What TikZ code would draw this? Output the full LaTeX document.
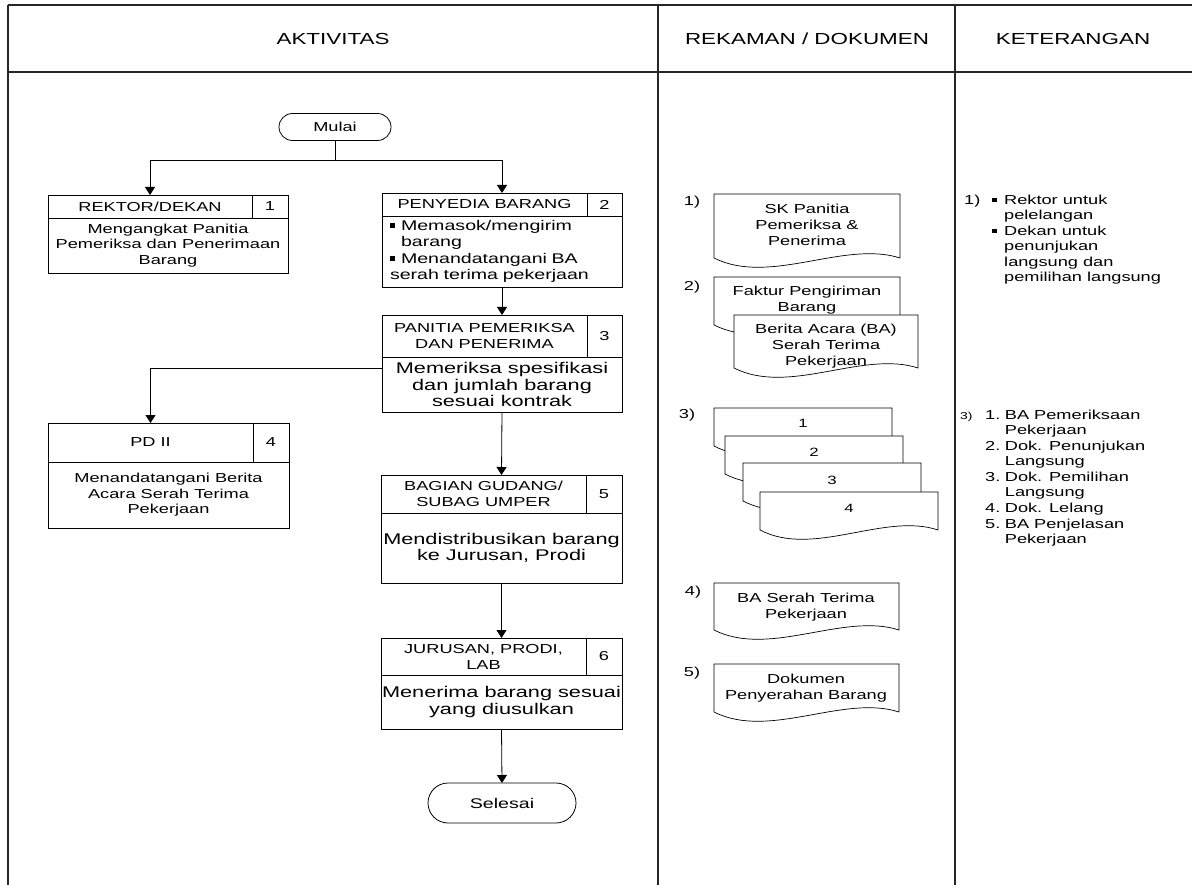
\documentclass[tikz,border=0pt]{standalone}
\usepackage{fontspec}
\setmainfont{Liberation Sans}[FakeStretch=1.4]
\usetikzlibrary{arrows.meta,positioning}

\newcommand{\sqb}{\rule[0.18em]{4.5pt}{4.5pt}}
\newcommand{\docshape}[4]{%
  \draw[docline] (#1,#2) -- (#3,#2) -- (#3,#4)
    .. controls ({#3-0.3*(#3-#1)},{#4-18}) and ({#1+0.3*(#3-#1)},{#4+28}) .. (#1,#4) -- cycle;}

\tikzset{
  frame/.style={line width=1.4pt, draw=black!85},
  divider/.style={line width=2.2pt, draw=black!85},
  colhead/.style={font=\fontsize{16}{19}\selectfont},
  head/.style={rectangle, draw, line width=0.8pt, outer sep=0pt, inner sep=1pt, align=center, anchor=north west, font=\fontsize{13}{16}\selectfont},
  num/.style={head, minimum width=36pt},
  body/.style={rectangle, draw, line width=0.8pt, outer sep=0pt, inner sep=1pt, align=center, anchor=north west, font=\fontsize{13}{15.5}\selectfont},
  bigbody/.style={body, font=\fontsize{15.5}{16.7}\selectfont},
  term/.style={rectangle, draw, line width=0.8pt, outer sep=0pt, font=\fontsize{13}{15}\selectfont},
  arr/.style={-{Triangle[width=10pt,length=8pt]}, line width=0.8pt},
  link/.style={line width=0.8pt},
  docline/.style={line width=0.7pt, fill=white},
  doctext/.style={align=center, font=\fontsize{13}{16}\selectfont},
  tag/.style={font=\fontsize{13}{15}\selectfont},
  note/.style={anchor=base west, inner sep=0pt, font=\fontsize{13}{15.5}\selectfont},
}

\begin{document}
\begin{tikzpicture}[x=1pt,y=-1pt]
\useasboundingbox (0,0) rectangle (1192,885);

% table frame
\draw[frame] (8,5) -- (1192,5);
\draw[frame] (8,72) -- (1192,72);
\draw[frame] (8,5) -- (8,885);
\draw[divider] (658,5) -- (658,885);
\draw[divider] (955,5) -- (955,885);
\node[colhead] (hAkt) at (333,39) {AKTIVITAS};
\node[colhead] (hRek) at (807,39) {REKAMAN / DOKUMEN};
\node[colhead] (hKet) at (1073,39) {KETERANGAN};

% activities
\node[term, minimum width=112pt, minimum height=27pt, rounded corners=13.5pt] (mulai) at (335,127) {Mulai};

\node[head, minimum width=204pt, minimum height=23pt] (h1) at (48,195) {REKTOR/DEKAN};
\node[num, minimum height=23pt] (n1) at (h1.north east) {1};
\node[body, minimum width=240pt, minimum height=55pt] (b1) at (h1.south west) {Mengangkat Panitia\\Pemeriksa dan Penerimaan\\Barang};

\node[head, minimum width=205pt, minimum height=23pt] (h2) at (382,193) {PENYEDIA BARANG};
\node[num, minimum width=35pt, minimum height=23pt] (n2) at (h2.north east) {2};
\node[body, minimum width=240pt, minimum height=71pt, text width=224pt, inner xsep=8pt, align=left, font=\fontsize{14}{16.5}\selectfont] (b2) at (h2.south west)
  {\noindent\begin{tabular}{@{}l@{}}
    \makebox[11pt][l]{\sqb}Memasok/mengirim\\
    \hspace*{11pt}barang\\
    \makebox[11pt][l]{\sqb}Menandatangani BA\\
    serah terima pekerjaan
  \end{tabular}};

\node[head, minimum width=205pt, minimum height=42pt] (h3) at (382,315) {PANITIA PEMERIKSA\\DAN PENERIMA};
\node[num, minimum width=35pt, minimum height=42pt] (n3) at (h3.north east) {3};
\node[bigbody, minimum width=240pt, minimum height=55pt] (b3) at (h3.south west) {Memeriksa spesifikasi\\dan jumlah barang\\sesuai kontrak};

\node[head, minimum width=205pt, minimum height=39pt] (h4) at (48,423) {PD II};
\node[num, minimum height=39pt] (n4) at (h4.north east) {4};
\node[body, minimum width=241pt, minimum height=66pt] (b4) at (h4.south west) {Menandatangani Berita\\Acara Serah Terima\\Pekerjaan};

\node[head, minimum width=205pt, minimum height=38pt] (h5) at (381,475) {BAGIAN GUDANG/\\SUBAG UMPER};
\node[num, minimum height=38pt] (n5) at (h5.north east) {5};
\node[bigbody, minimum width=241pt, minimum height=70pt] (b5) at (h5.south west) {Mendistribusikan barang\\ke Jurusan, Prodi};

\node[head, minimum width=205pt, minimum height=37pt] (h6) at (381,638) {JURUSAN, PRODI,\\LAB};
\node[num, minimum height=37pt] (n6) at (h6.north east) {6};
\node[bigbody, minimum width=241pt, minimum height=54pt] (b6) at (h6.south west) {Menerima barang sesuai\\yang diusulkan};

\node[term, minimum width=148pt, minimum height=40pt, rounded corners=20pt, font=\fontsize{14}{16}\selectfont] (selesai) at (502,803) {Selesai};

% flow
\coordinate (fork) at (335,160);
\draw[link] (mulai.south) -- (fork);
\draw[arr] (fork) -| (h1.north);
\draw[arr] (fork) -| (b2.north |- h2.north);
\draw[arr] (b2.south) -- (b3.north |- h3.north);
\draw[arr] ([yshift=16.5pt]b3.west) -| (h4.north);
\draw[arr] (b3.south) -- (b5.north |- h5.north);
\draw[arr] (b5.south) -- (b6.north |- h6.north);
\draw[arr] (b6.south) -- (selesai.north);

% records
\node[tag] (t1) at (692,202) {1)};
\docshape{714}{194}{900}{258}
\node[doctext] (dSK) at (807,225) {SK Panitia\\Pemeriksa \&\\Penerima};

\node[tag] (t2) at (692,287) {2)};
\docshape{714}{277}{900}{325}
\node[doctext] (dFaktur) at (807,300) {Faktur Pengiriman\\Barang};
\docshape{734}{315}{918}{368}
\node[doctext] (dBA) at (826,346) {Berita Acara (BA)\\Serah Terima\\Pekerjaan};

\node[tag] (t3) at (687,415) {3)};
\docshape{714}{408}{892}{446}
\node[doctext, font=\fontsize{12}{14}\selectfont] (s1) at (803,423) {1};
\docshape{725}{436}{903}{474}
\node[doctext, font=\fontsize{12}{14}\selectfont] (s2) at (814,452) {2};
\docshape{743}{463}{921}{501}
\node[doctext, font=\fontsize{12}{14}\selectfont] (s3) at (832,480) {3};
\docshape{760}{492}{938}{530}
\node[doctext, font=\fontsize{12}{14}\selectfont] (s4) at (849,508) {4};

\node[tag] (t4) at (693,592) {4)};
\docshape{714}{583}{899}{630}
\node[doctext] (dSerah) at (806,607) {BA Serah Terima\\Pekerjaan};

\node[tag] (t5) at (692,673) {5)};
\docshape{714}{664}{899}{712}
\node[doctext] (dSerahBrg) at (806,688) {Dokumen\\Penyerahan Barang};

% notes
\node[note] (k1n) at (964,204.5) {1)};
\node[note] (k1) at (992,204.5) {\begin{tabular}[t]{@{}l@{\hspace{7.5pt}}l@{}}
  \sqb & Rektor untuk\\
       & pelelangan\\
  \sqb & Dekan untuk\\
       & penunjukan\\
       & langsung dan\\
       & pemilihan langsung
\end{tabular}};

\node[note, font=\fontsize{10}{12}\selectfont] (k3n) at (960,419.5) {3)};
\node[note] (k3) at (985,419.5) {\begin{tabular}[t]{@{}l@{\hspace{4.5pt}}l@{}}
  1. & BA Pemeriksaan\\
     & Pekerjaan\\
  2. & Dok. Penunjukan\\
     & Langsung\\
  3. & Dok. Pemilihan\\
     & Langsung\\
  4. & Dok. Lelang\\
  5. & BA Penjelasan\\
     & Pekerjaan
\end{tabular}};

\end{tikzpicture}
\end{document}
